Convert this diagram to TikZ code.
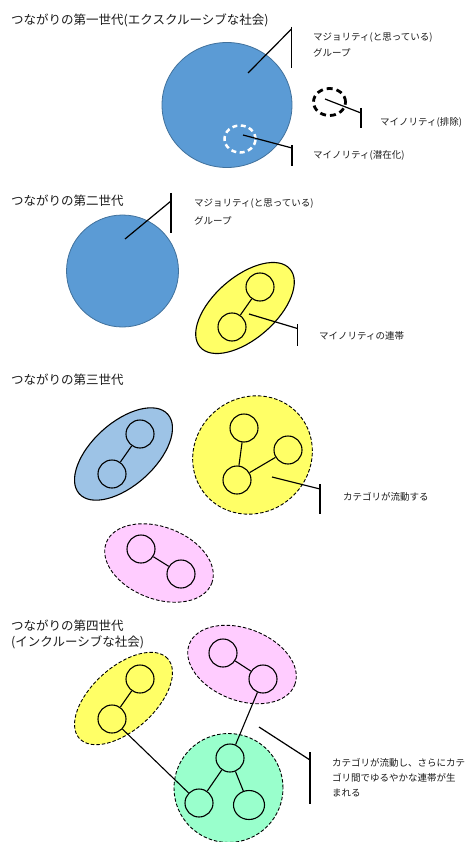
\documentclass[tikz,border=0pt]{standalone}
\usepackage{fontspec}
\setmainfont{Noto Sans CJK JP}
\usetikzlibrary{shapes.geometric}
\definecolor{bigblue}{HTML}{5B9BD5}
\definecolor{bigblueedge}{HTML}{41719C}
\definecolor{lightblue}{HTML}{9DC3E6}
\definecolor{yel}{HTML}{FFFF66}
\definecolor{pinkish}{HTML}{FFCCFF}
\definecolor{mint}{HTML}{99FFCC}
\definecolor{txt}{HTML}{1A1A1A}
\begin{document}
\begin{tikzpicture}[x=1pt,y=-1pt,
 title/.style={anchor=west, inner sep=0, font=\fontsize{12.5}{16.5}\selectfont, text=txt, align=left},
 lbl/.style={anchor=west, inner sep=0, font=\fontsize{9.5}{15}\selectfont, text=txt, align=left},
 grp/.style={ellipse, draw=black, line width=1.1pt, inner sep=0},
 dgrp/.style={grp, line width=0.9pt, dash pattern=on 3.5pt off 2pt},
 mem/.style={circle, draw=black, line width=1.1pt, minimum size=28pt, inner sep=0},
 link/.style={line width=1.1pt},
 leader/.style={line width=1.2pt},
]
\useasboundingbox (0,0) rectangle (467,842);

% ---------------- Generation 1 ----------------
\node[title] (t1) at (11,20) {つながりの第一世代(エクスクルーシブな社会)};
\node[ellipse, fill=bigblue, draw=bigblueedge, line width=0.8pt, minimum width=130pt, minimum height=125pt, inner sep=0] (maj1) at (227,105) {};
\node[ellipse, draw=white, line width=2.5pt, dash pattern=on 5pt off 3.5pt, minimum width=31pt, minimum height=27pt, inner sep=0] (hid1) at (240,139) {};
\node[ellipse, draw=black, line width=2.8pt, dash pattern=on 6pt off 4pt, minimum width=32pt, minimum height=27pt, inner sep=0] (exc1) at (329.5,102) {};

\coordinate (m1a) at (248,73);  \coordinate (m1b) at (291.5,29);
\coordinate (m1t) at (291.5,27); \coordinate (m1u) at (291.5,68);
\draw[leader] (m1a) -- (m1b); \draw[leader] (m1t) -- (m1u);
\node[lbl] (l1a) at (313,38) {マジョリティ(と思っている)};
\node[lbl] (l1b) at (313,53) {グループ};

\coordinate (e1a) at (325,99);  \coordinate (e1b) at (361,113);
\coordinate (e1t) at (361,108); \coordinate (e1u) at (361,128);
\draw[leader] (e1a) -- (e1b); \draw[leader] (e1t) -- (e1u);
\node[lbl] (l1c) at (380,122) {マイノリティ(排除)};

\coordinate (h1a) at (243,135); \coordinate (h1b) at (292,148);
\coordinate (h1t) at (292,145); \coordinate (h1u) at (292,166);
\draw[leader] (h1a) -- (h1b); \draw[leader] (h1t) -- (h1u);
\node[lbl] (l1d) at (313,155) {マイノリティ(潜在化)};

% ---------------- Generation 2 ----------------
\node[title] (t2) at (11,201) {つながりの第二世代};
\node[circle, fill=bigblue, draw=bigblueedge, line width=0.8pt, minimum size=112pt, inner sep=0] (maj2) at (122.5,271) {};
\coordinate (m2a) at (125,239); \coordinate (m2b) at (171,201);
\coordinate (m2t) at (171,193); \coordinate (m2u) at (171,233);
\draw[leader] (m2a) -- (m2b); \draw[leader] (m2t) -- (m2u);
\node[lbl] (l2a) at (194,204) {マジョリティ(と思っている)};
\node[lbl] (l2b) at (194,221) {グループ};

\node[grp, fill=yel, minimum width=119pt, minimum height=62pt, rotate=41] (g2) at (245,308) {};
\node[mem] (g2a) at (260,287) {};
\node[mem] (g2b) at (232,327) {};
\draw[link] (g2a) -- (g2b);
\coordinate (n2a) at (249,314); \coordinate (n2b) at (297.5,328.5);
\coordinate (n2t) at (297.5,324); \coordinate (n2u) at (297.5,346);
\draw[leader] (n2a) -- (n2b); \draw[leader] (n2t) -- (n2u);
\node[lbl] (l2c) at (319,336) {マイノリティの連帯};

% ---------------- Generation 3 ----------------
\node[title] (t3) at (11,380) {つながりの第三世代};
\node[grp, fill=lightblue, minimum width=119pt, minimum height=63pt, rotate=42] (g3b) at (123.5,454) {};
\node[mem] (g3b1) at (140,434) {};
\node[mem] (g3b2) at (112,474) {};
\draw[link] (g3b1) -- (g3b2);

\node[dgrp, fill=yel, minimum width=123pt, minimum height=115pt, rotate=40] (g3y) at (252.5,455) {};
\node[mem] (g3y1) at (244,428) {};
\node[mem] (g3y2) at (288,450) {};
\node[mem] (g3y3) at (237,480) {};
\draw[link] (g3y1) -- (g3y3);
\draw[link] (g3y2) -- (g3y3);
\coordinate (c3a) at (272,477); \coordinate (c3b) at (320,489);
\coordinate (c3t) at (320,484); \coordinate (c3u) at (320,514);
\draw[leader] (c3a) -- (c3b); \draw[leader] (c3t) -- (c3u);
\node[lbl] (l3) at (343,497) {カテゴリが流動する};

\node[dgrp, fill=pinkish, minimum width=113pt, minimum height=72pt, rotate=-21] (g3p) at (159,563) {};
\node[mem] (g3p1) at (141,549) {};
\node[mem] (g3p2) at (181,574) {};
\draw[link] (g3p1) -- (g3p2);

% ---------------- Generation 4 ----------------
\node[title] (t4) at (11,634.5) {つながりの第四世代\\(インクルーシブな社会)};
\node[dgrp, fill=yel, minimum width=119pt, minimum height=63pt, rotate=42] (g4y) at (123.5,698.5) {};
\node[dgrp, fill=pinkish, minimum width=113pt, minimum height=72pt, rotate=-21] (g4p) at (242,664.5) {};
\node[dgrp, fill=mint, minimum size=109pt, circle] (g4g) at (228.5,788) {};

\node[mem] (g4y1) at (140,679) {};
\node[mem] (g4y2) at (112,719) {};
\node[mem] (g4p1) at (223,653) {};
\node[mem] (g4p2) at (263,679) {};
\node[mem] (g4g1) at (230,758) {};
\node[mem] (g4g2) at (199,803) {};
\node[mem, minimum width=31pt, minimum height=29pt, ellipse] (g4g3) at (249,805) {};

\draw[link] (g4y1) -- (g4y2);
\draw[link] (g4p1) -- (g4p2);
\draw[link] (g4g1) -- (g4g2);
\draw[link] (g4g1) -- (g4g3);
\draw[link] (g4y2) -- (g4g2);
\draw[link] (g4p2) -- (g4g1);

\coordinate (c4a) at (259,727); \coordinate (c4b) at (310,760);
\coordinate (c4t) at (310,752); \coordinate (c4u) at (310,804);
\draw[leader] (c4a) -- (c4b); \draw[leader] (c4t) -- (c4u);
\node[lbl] (l4) at (332,778) {カテゴリが流動し、さらにカテ\\ゴリ間でゆるやかな連帯が生\\まれる};
\end{tikzpicture}
\end{document}
